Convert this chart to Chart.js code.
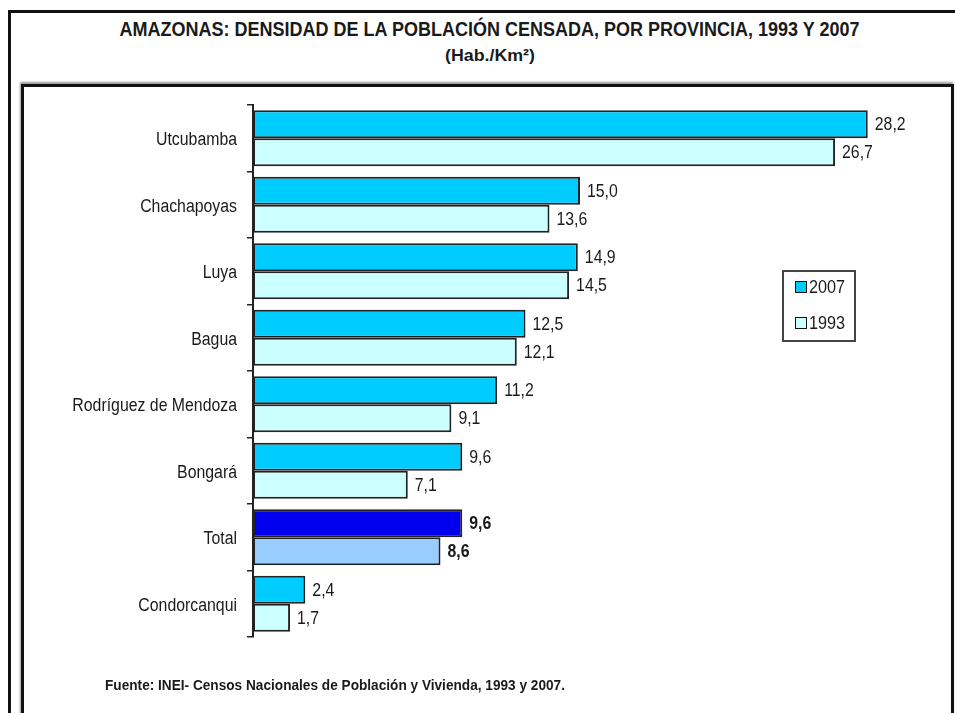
<!DOCTYPE html>
<html>
<head>
<meta charset="utf-8">
<script src="https://cdn.jsdelivr.net/npm/chart.js@4/dist/chart.umd.min.js"></script>
<style>
  html, body { margin:0; padding:0; background:#fff; }
  body { width:955px; height:713px; position:relative; overflow:hidden; font-family:"Liberation Sans",Arial,sans-serif; color:#1a1a1a; }
  #outer { position:absolute; left:8px; top:10px; width:980px; height:760px; border:3px solid #111; box-sizing:border-box; }
  #inner { position:absolute; left:21px; top:84px; width:933px; height:700px; border:3px solid #111; box-sizing:border-box; box-shadow:-1px -2px 2px #999; }
  .row { position:absolute; left:0; width:980px; text-align:center; white-space:nowrap; }
  .fit { display:inline-block; white-space:nowrap; }
  #title { top:17px; font-weight:bold; font-size:21px; line-height:24px; }
  #title2 { top:46px; font-weight:bold; font-size:17px; line-height:20px; }
  #source { position:absolute; left:105px; top:676px; font-weight:bold; font-size:15px; line-height:18px; white-space:nowrap; transform-origin:0 50%; }
  #legend { position:absolute; left:782px; top:270px; width:74px; height:72px; border:2px solid #444; box-sizing:border-box; }
  .li { position:absolute; left:11px; font-size:18px; line-height:18px; white-space:nowrap; }
  .sw { display:inline-block; width:10px; height:10px; border:1.5px solid #111; vertical-align:middle; margin-right:2px; position:relative; top:-1px; }
  .lt { display:inline-block; transform:scaleX(0.9); transform-origin:0 50%; }
  canvas { position:absolute; left:0; top:0; }
</style>
</head>
<body>
<div id="outer"></div>
<div id="inner"></div>
<div class="row" id="title"><span class="fit" id="t1">AMAZONAS: DENSIDAD DE LA POBLACIÓN CENSADA, POR PROVINCIA, 1993 Y 2007</span></div>
<div class="row" id="title2"><span class="fit" id="t2">(Hab./Km²)</span></div>
<canvas id="c" width="955" height="713"></canvas>
<div id="legend">
  <div class="li" style="top:6px"><span class="sw" style="background:#00CCFF"></span><span class="lt">2007</span></div>
  <div class="li" style="top:42px"><span class="sw" style="background:#CCFFFF"></span><span class="lt">1993</span></div>
</div>
<div id="source">Fuente: INEI- Censos Nacionales de Población y Vivienda, 1993 y 2007.</div>
<script>
const categories = ['Utcubamba','Chachapoyas','Luya','Bagua','Rodríguez de Mendoza','Bongará','Total','Condorcanqui'];
const values2007 = [28.2, 15.0, 14.9, 12.5, 11.2, 9.6, 9.6, 2.4];
const values1993 = [26.7, 13.6, 14.5, 12.1, 9.1, 7.1, 8.6, 1.7];
const seriesNames = ['2007', '1993'];

function fitWidth(el, target, origin){
  const w = el.getBoundingClientRect().width;
  el.style.transformOrigin = origin || '50% 50%';
  el.style.transform = 'scaleX(' + (target / w) + ')';
}
fitWidth(document.getElementById('t1'), 740);
fitWidth(document.getElementById('t2'), 90);
fitWidth(document.getElementById('source'), 460, '0 50%');

const FONT = '"Liberation Sans",Arial,sans-serif';
const SX = 0.88;
const totalIdx = categories.indexOf('Total');
const col2007 = categories.map((c,i)=> i===totalIdx ? '#0000EE' : '#00CCFF');
const col1993 = categories.map((c,i)=> i===totalIdx ? '#99CCFF' : '#CCFFFF');

function narrowText(ctx, txt, x, y, align){
  ctx.save();
  ctx.translate(x, y);
  ctx.scale(SX, 1);
  ctx.textAlign = align;
  ctx.fillText(txt, 0, 0);
  ctx.restore();
}

const labelPlugin = {
  id:'narrowLabels',
  afterDatasetsDraw(chart){
    const ctx = chart.ctx;
    ctx.save();
    ctx.fillStyle = '#1a1a1a';
    ctx.textBaseline = 'middle';
    chart.data.datasets.forEach((ds, di)=>{
      const meta = chart.getDatasetMeta(di);
      meta.data.forEach((el, i)=>{
        ctx.font = (i===totalIdx ? 'bold ' : '') + '18px ' + FONT;
        narrowText(ctx, ds.data[i].toFixed(1).replace('.', ','), el.x + 7, el.y + 1, 'left');
      });
    });
    const ys = chart.scales.y;
    ctx.font = '18px ' + FONT;
    chart.data.labels.forEach((lab, i)=>{
      narrowText(ctx, lab, ys.right - 16, ys.getPixelForValue(i) + 2, 'right');
    });
    ctx.restore();
  }
};

new Chart(document.getElementById('c'), {
  type:'bar',
  data:{
    labels:categories,
    datasets:[
      { label:seriesNames[0], data:values2007, backgroundColor:col2007, borderColor:'#222', borderWidth:2, borderSkipped:false, barPercentage:1.0, categoryPercentage:0.84 },
      { label:seriesNames[1], data:values1993, backgroundColor:col1993, borderColor:'#222', borderWidth:2, borderSkipped:false, barPercentage:1.0, categoryPercentage:0.84 }
    ]
  },
  options:{
    indexAxis:'y',
    responsive:false,
    animation:false,
    devicePixelRatio:1,
    layout:{ padding:{ left:0, right:48, top:105, bottom:76 } },
    plugins:{ legend:{display:false}, tooltip:{enabled:false} },
    scales:{
      x:{ display:false, min:0, max:30 },
      y:{
        offset:true,
        afterFit(scale){ scale.width = 253; },
        border:{ display:true, color:'#222', width:2 },
        grid:{ display:true, offset:true, drawOnChartArea:false, drawTicks:true, tickLength:6, color:'#222', lineWidth:1.5 },
        ticks:{ color:'rgba(0,0,0,0)', padding:10, font:{ family:FONT, size:18 } }
      }
    }
  },
  plugins:[labelPlugin]
});
</script>
</body>
</html>
